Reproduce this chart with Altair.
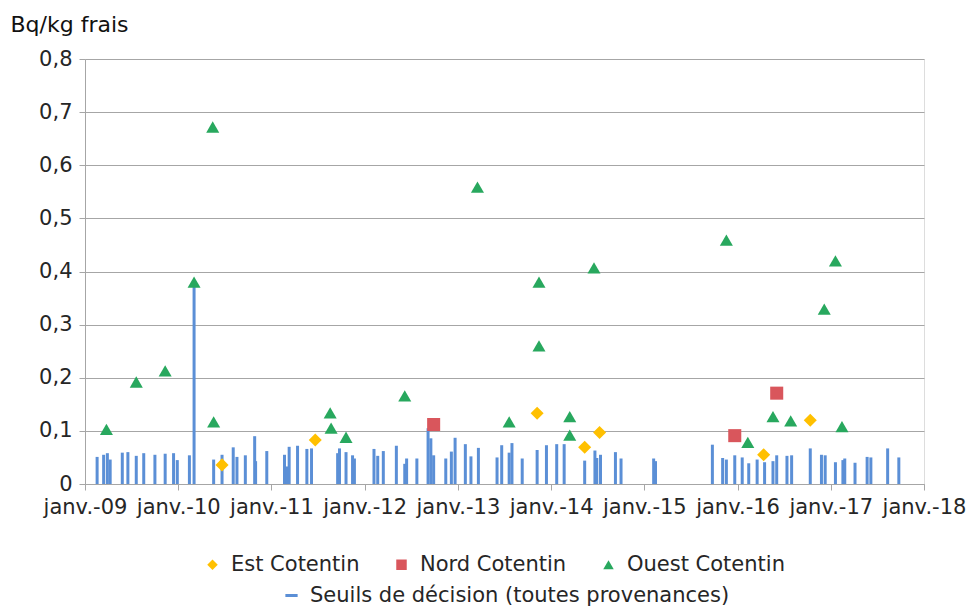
import altair as alt
import pandas as pd

# --- Data (x in decimal years) ---
seuils_annee = [2009.13, 2009.20, 2009.24, 2009.27, 2009.40, 2009.46, 2009.55, 2009.63, 2009.75, 2009.86,
                2009.95, 2009.99, 2010.12, 2010.17, 2010.38, 2010.47, 2010.59, 2010.63, 2010.72, 2010.82,
                2010.83, 2010.95, 2011.14, 2011.17, 2011.19, 2011.28, 2011.38, 2011.43, 2011.71, 2011.73,
                2011.80, 2011.87, 2011.89, 2012.10, 2012.14, 2012.20, 2012.34, 2012.43, 2012.45, 2012.56,
                2012.68, 2012.71, 2012.74, 2012.87, 2012.93, 2012.97, 2013.08, 2013.14, 2013.22, 2013.42,
                2013.47, 2013.55, 2013.58, 2013.69, 2013.85, 2013.95, 2014.06, 2014.14, 2014.36, 2014.47,
                2014.49, 2014.53, 2014.69, 2014.75, 2015.10, 2015.12, 2015.73, 2015.84, 2015.88, 2015.97,
                2016.05, 2016.12, 2016.21, 2016.29, 2016.38, 2016.42, 2016.53, 2016.58, 2016.78, 2016.90,
                2016.94, 2017.05, 2017.13, 2017.15, 2017.26, 2017.39, 2017.43, 2017.61, 2017.73]
seuils_valeur = [0.051, 0.055, 0.058, 0.046, 0.059, 0.060, 0.053, 0.058, 0.055, 0.057,
                 0.058, 0.045, 0.054, 0.380, 0.046, 0.055, 0.069, 0.051, 0.054, 0.090,
                 0.043, 0.062, 0.055, 0.033, 0.070, 0.072, 0.066, 0.067, 0.058, 0.067,
                 0.060, 0.054, 0.048, 0.066, 0.053, 0.062, 0.072, 0.038, 0.048, 0.048,
                 0.105, 0.086, 0.054, 0.048, 0.061, 0.087, 0.075, 0.052, 0.068, 0.050,
                 0.073, 0.059, 0.077, 0.048, 0.064, 0.073, 0.075, 0.075, 0.044, 0.063,
                 0.049, 0.055, 0.060, 0.048, 0.048, 0.043, 0.074, 0.049, 0.046, 0.054,
                 0.050, 0.039, 0.046, 0.041, 0.043, 0.054, 0.053, 0.054, 0.067, 0.055,
                 0.054, 0.041, 0.045, 0.048, 0.040, 0.051, 0.050, 0.067, 0.050]

est_annee = [2010.47, 2011.47, 2013.85, 2014.36, 2014.52, 2016.28, 2016.78]
est_valeur = [0.036, 0.083, 0.133, 0.069, 0.097, 0.055, 0.120]

nord_annee = [2012.74, 2015.97, 2016.42]
nord_valeur = [0.112, 0.091, 0.171]

ouest_annee = [2009.23, 2009.55, 2009.86, 2010.17, 2010.37, 2010.38, 2011.63, 2011.64, 2011.80, 2012.43,
               2013.21, 2013.55, 2013.87, 2013.87, 2014.20, 2014.20, 2014.46, 2015.88, 2016.11, 2016.38,
               2016.57, 2016.93, 2017.05, 2017.12]
ouest_valeur = [0.103, 0.192, 0.213, 0.380, 0.672, 0.117, 0.134, 0.105, 0.088, 0.166,
                0.559, 0.117, 0.380, 0.260, 0.127, 0.092, 0.407, 0.459, 0.0785, 0.127,
                0.119, 0.329, 0.420, 0.108]

series = ["Est Cotentin", "Nord Cotentin", "Ouest Cotentin"]
series_colors = ["#FFC000", "#D9565C", "#28A85E"]
series_shapes = ["diamond", "square", "triangle-up"]
seuil_label = "Seuils de décision (toutes provenances)"
year_ticks = list(range(2009, 2019))
y_ticks = [0, 0.1, 0.2, 0.3, 0.4, 0.5, 0.6, 0.7, 0.8]

FONT = "DejaVu Sans"
TXT = "#262626"
FS = 21

seuils_df = pd.DataFrame({"annee": seuils_annee, "valeur": seuils_valeur, "serie": seuil_label})
points_df = pd.concat([
    pd.DataFrame({"annee": est_annee, "valeur": est_valeur, "serie": series[0]}),
    pd.DataFrame({"annee": nord_annee, "valeur": nord_valeur, "serie": series[1]}),
    pd.DataFrame({"annee": ouest_annee, "valeur": ouest_valeur, "serie": series[2]}),
])

x_enc = alt.X("annee:Q",
              scale=alt.Scale(domain=[2009, 2018], nice=False, zero=False),
              axis=alt.Axis(values=year_ticks, title=None, labelOverlap=False, labelFlush=False,
                            labelExpr="'janv.-' + substring(toString(datum.value), 2, 4)",
                            grid=False, domainColor="#A6A6A6", tickColor="#A6A6A6",
                            tickSize=6, labelPadding=6, labelFontSize=FS, labelColor=TXT,
                            labelFont=FONT))
y_enc = alt.Y("valeur:Q",
              scale=alt.Scale(domain=[0, 0.8], nice=False),
              axis=alt.Axis(values=y_ticks, title="Bq/kg frais", titleAngle=0,
                            titleAlign="left", titleBaseline="alphabetic",
                            titleX=-75, titleY=-28, titleFontSize=22, titleFont=FONT,
                            titleFontWeight="normal", titleColor="#111111",
                            labelExpr="datum.value == 0 ? '0' : replace(format(datum.value, '.1f'), '.', ',')",
                            grid=True, gridColor="#A6A6A6", gridWidth=1.2,
                            domainColor="#A6A6A6", tickColor="#A6A6A6", tickSize=6,
                            labelPadding=7, labelFontSize=FS, labelColor=TXT, labelFont=FONT))

bars = alt.Chart(seuils_df).mark_rule(strokeWidth=3, color="#5B8FD6").encode(
    x=x_enc,
    y=y_enc,
    y2=alt.datum(0),
    color=alt.Color("serie:N",
                    scale=alt.Scale(domain=[seuil_label], range=["#5B8FD6"]),
                    legend=alt.Legend(title=None, orient="none", legendX=196, legendY=526,
                                      symbolType="stroke", symbolStrokeWidth=3, symbolSize=150,
                                      labelFontSize=FS, labelFont=FONT, labelColor=TXT,
                                      labelOffset=8, labelLimit=600)),
)

leg = dict(title=None, orient="none", direction="horizontal", legendX=117, legendY=495,
           symbolSize=110, labelFontSize=FS, labelFont=FONT, labelColor=TXT,
           labelOffset=8, columnPadding=31, labelLimit=300, symbolStrokeWidth=0)

points = alt.Chart(points_df).mark_point(filled=True, opacity=1, size=170).encode(
    x="annee:Q",
    y="valeur:Q",
    color=alt.Color("serie:N", scale=alt.Scale(domain=series, range=series_colors),
                    legend=alt.Legend(**leg)),
    shape=alt.Shape("serie:N", scale=alt.Scale(domain=series, range=series_shapes),
                    legend=alt.Legend(**leg)),
)

chart = alt.layer(bars, points).resolve_scale(color="independent", shape="independent").properties(
    width=839, height=425,
    autosize=alt.AutoSizeParams(type="none"),
    padding={"left": 77, "top": 51, "right": 44, "bottom": 122},
).configure_view(stroke=None).configure(font=FONT)

chart.save("out.html", embed_options={"renderer": "svg", "actions": False})
